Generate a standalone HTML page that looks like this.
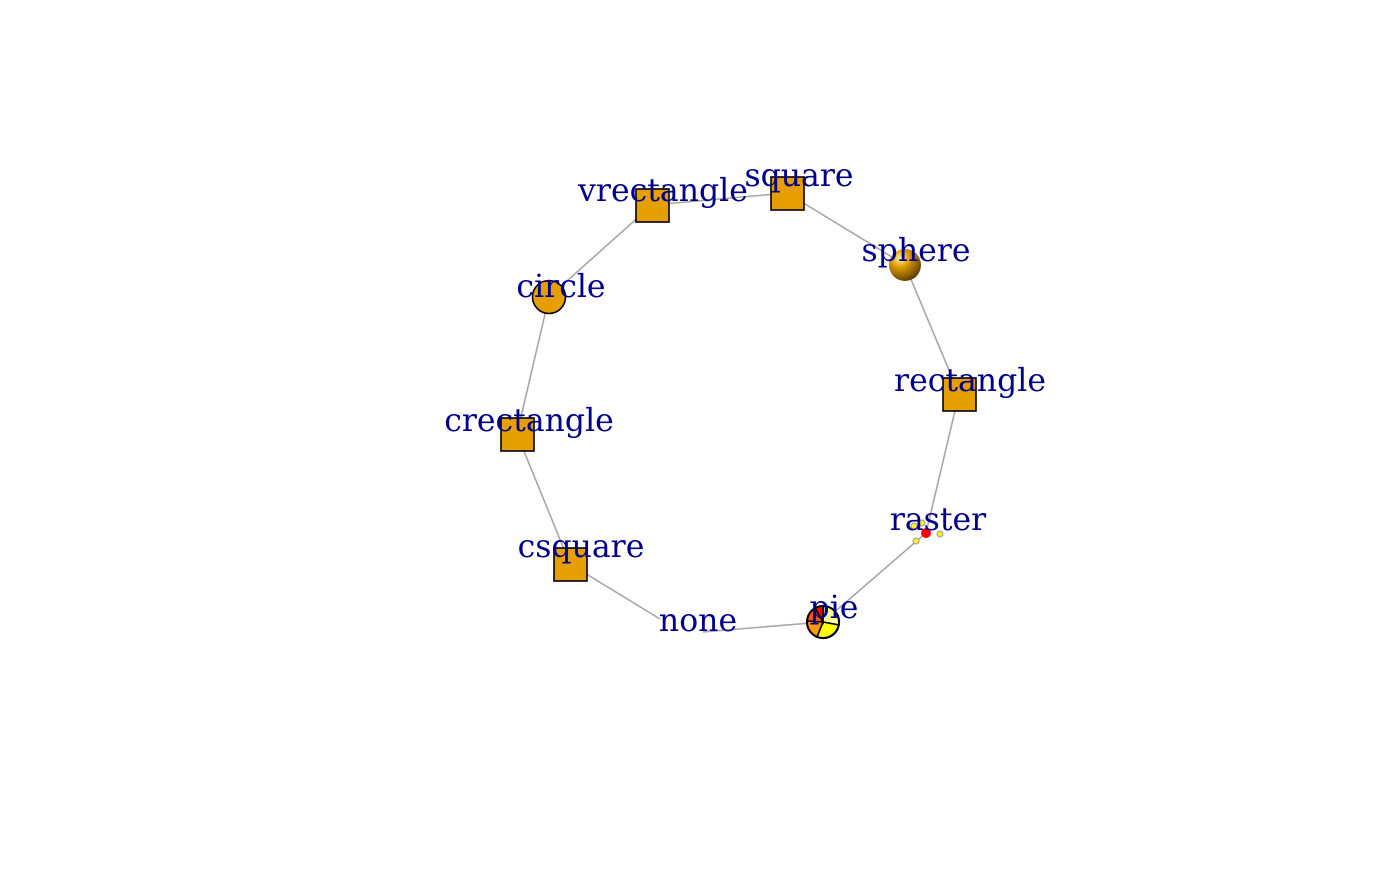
<!DOCTYPE html>
<html><head><style>body{margin:0;background:#fff}</style></head><body>
<svg width="1400" height="866" xmlns="http://www.w3.org/2000/svg">
<defs>
<radialGradient id="sg" cx="0.35" cy="0.3" r="0.75">
<stop offset="0" stop-color="#fff3b0"/><stop offset="0.35" stop-color="#e0a000"/><stop offset="1" stop-color="#5a3a00"/>
</radialGradient>
</defs>
<g stroke="#a6a6a6" stroke-width="1.6" fill="none">
<polyline points="787,193 905,265 959,394 926,533 823,622 703,632"/>
<polyline points="660,619 570,564 517,434 549,297 652,205 787,193"/>
</g>
<rect x="771" y="177" width="33" height="33" fill="#e69f00" stroke="#000" stroke-width="1.6"/>
<rect x="636" y="189" width="33" height="33" fill="#e69f00" stroke="#000" stroke-width="1.6"/>
<rect x="943" y="378" width="33" height="33" fill="#e69f00" stroke="#000" stroke-width="1.6"/>
<rect x="501" y="418" width="33" height="33" fill="#e69f00" stroke="#000" stroke-width="1.6"/>
<rect x="554" y="548" width="33" height="33" fill="#e69f00" stroke="#000" stroke-width="1.6"/>
<circle cx="549" cy="297" r="16.5" fill="#e69f00" stroke="#000" stroke-width="1.6"/>
<circle cx="905" cy="265" r="16" fill="url(#sg)"/>
<g stroke="#999" stroke-width="1">
<circle cx="916" cy="541" r="3" fill="#ffee22"/>
<circle cx="940" cy="534" r="3" fill="#ffee22"/>
<circle cx="914" cy="526" r="3" fill="#ffee22"/>
<circle cx="922" cy="523" r="3" fill="#ffee22"/>
</g>
<circle cx="926" cy="533" r="5" fill="#ff0000"/>
<g stroke="#000" stroke-width="1.6">
<path d="M823,622 L823,606 A16,16 0 0 1 839,625 Z" fill="#ffff99"/>
<path d="M823,622 L839,625 A16,16 0 0 1 817,637 Z" fill="#ffff00"/>
<path d="M823,622 L817,637 A16,16 0 0 1 807,621 Z" fill="#ff9900"/>
<path d="M823,622 L807,621 A16,16 0 0 1 815,608 Z" fill="#ff5500"/>
<path d="M823,622 L815,608 A16,16 0 0 1 823,606 Z" fill="#ff0000"/>
<circle cx="823" cy="622" r="16" fill="none" stroke-width="2"/>
</g>
<g font-family="DejaVu Serif, serif" font-size="31.5" fill="#00008b" text-anchor="middle" dominant-baseline="central">
<text x="799" y="176">square</text>
<text x="663" y="191">vrectangle</text>
<text x="916" y="251">sphere</text>
<text x="561" y="287">circle</text>
<text x="970" y="381">rectangle</text>
<text x="529" y="421">crectangle</text>
<text x="938" y="520">raster</text>
<text x="581" y="547">csquare</text>
<text x="834" y="608">pie</text>
<text x="698" y="621">none</text>
</g>
</svg>
</body></html>
